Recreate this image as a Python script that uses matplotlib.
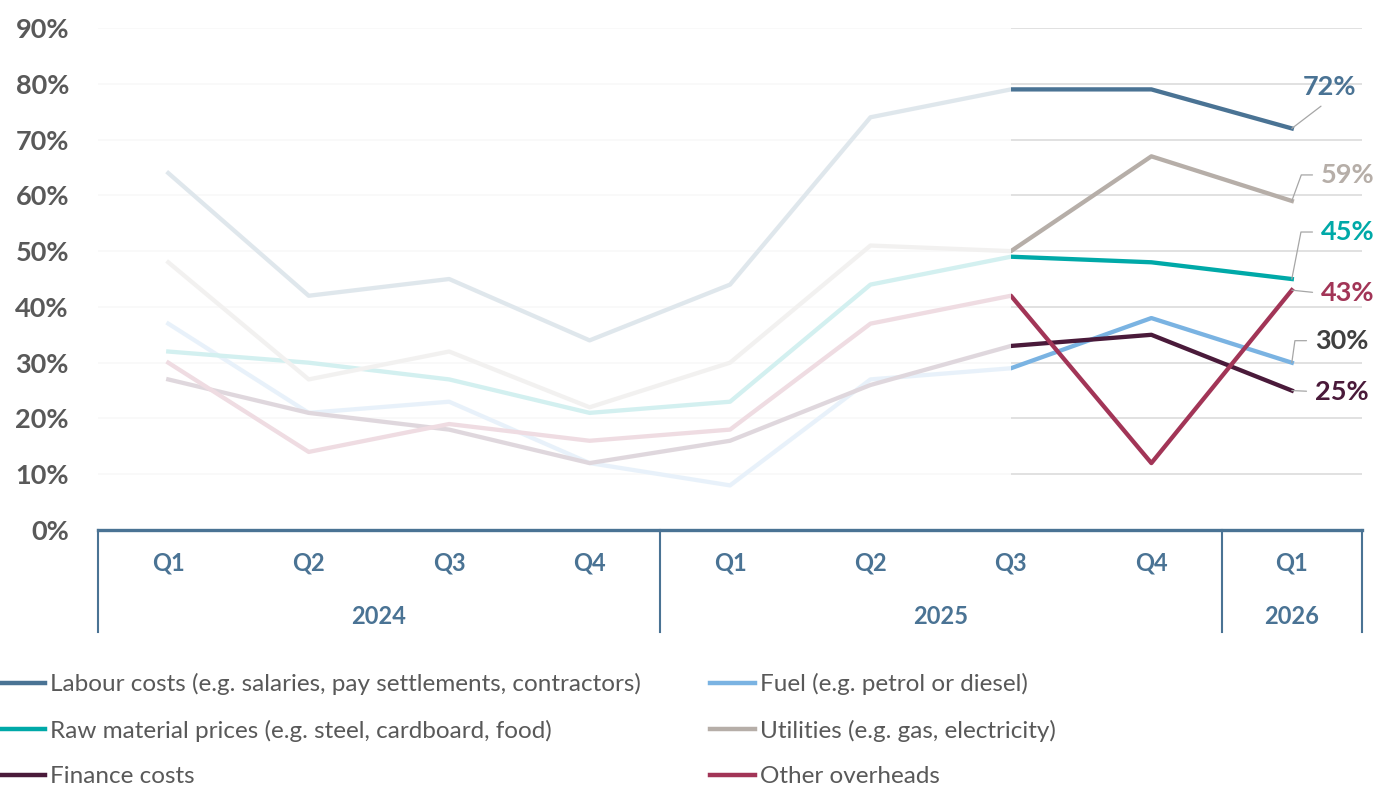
import numpy as np
import matplotlib
matplotlib.use('Agg')
import matplotlib.pyplot as plt
import matplotlib.transforms as mtransforms
from matplotlib.patches import Rectangle
from matplotlib.lines import Line2D

plt.rcParams['font.family'] = ['Lato', 'DejaVu Sans']

# quarterly share of firms citing each cost pressure (%)
quarters  = ['Q1', 'Q2', 'Q3', 'Q4', 'Q1', 'Q2', 'Q3', 'Q4', 'Q1']
years     = ['2024', '2025', '2026']
year_span = [4, 4, 1]

labour    = [64, 42, 45, 34, 44, 74, 79, 79, 72]
fuel      = [37, 21, 23, 12, 8, 27, 29, 38, 30]
raw       = [32, 30, 27, 21, 23, 44, 49, 48, 45]
utilities = [48, 27, 32, 22, 30, 51, 50, 67, 59]
finance   = [27, 21, 18, 12, 16, 26, 33, 35, 25]
other     = [30, 14, 19, 16, 18, 37, 42, 12, 43]

names = ['Labour costs (e.g. salaries, pay settlements, contractors)',
         'Fuel (e.g. petrol or diesel)',
         'Raw material prices (e.g. steel, cardboard, food)',
         'Utilities (e.g. gas, electricity)',
         'Finance costs',
         'Other overheads']
series = [labour, fuel, raw, utilities, finance, other]
colors = ['#4A7394', '#7AB3E2', '#00A9A8', '#B6AEA8', '#4A1A3A', '#A23557']

axis_col = '#4A7394'
x = np.arange(len(quarters))

fig = plt.figure(figsize=(13.79, 7.92), dpi=100)
ax = fig.add_axes([0.0711, 0.3308, 0.9166, 0.6338])

for s, c in zip(series, colors):
    ax.plot(x, s, color=c, lw=3.1, solid_joinstyle='round', zorder=3)

ax.set_xlim(-0.5, len(quarters) - 0.5)
ax.set_ylim(0, 90)
ax.set_yticks(range(0, 91, 10))
ax.set_yticklabels([f'{v}%' for v in range(0, 91, 10)],
                   fontsize=19.5, fontweight='bold', color='#595959')
ax.tick_params(axis='y', length=0, pad=21)
ax.set_xticks([])
ax.yaxis.grid(True, color='#D9D9D9', lw=1.1)
ax.set_axisbelow(True)
for side in ['left', 'right', 'top']:
    ax.spines[side].set_visible(False)
ax.spines['bottom'].set_color(axis_col)
ax.spines['bottom'].set_linewidth(2.4)
ax.spines['bottom'].set_zorder(6)

# wash out history before Q3 2025
trans = mtransforms.blended_transform_factory(ax.transData, ax.transAxes)
ax.add_patch(Rectangle((-0.5, 0), 6.5, 1.01, transform=trans, facecolor='white',
                       alpha=0.83, lw=0, zorder=4, clip_on=False))

# two-level category axis
for i, q in enumerate(quarters):
    ax.text(i, -0.066, q, transform=trans, ha='center', va='center',
            fontsize=17, fontweight='bold', color=axis_col)
bounds = np.cumsum([0] + year_span) - 0.5
for b in bounds:
    ax.plot([b, b], [0, -0.203], transform=trans, color=axis_col, lw=1.5,
            clip_on=False, zorder=6)
for yr, lo, hi in zip(years, bounds[:-1], bounds[1:]):
    ax.text((lo + hi) / 2, -0.173, yr, transform=trans, ha='center', va='center',
            fontsize=17, fontweight='bold', color=axis_col)

# end-of-series value labels with leader lines
label_cols = ['#4A7394', '#404040', '#00A9A8', '#B6AEA8', '#4A1A3A', '#A23557']
offsets = [(38, 41), (23, 22), (29, 47), (29, 26), (23, -1), (29, -3)]
conns = ['arc3', 'angle,angleA=0,angleB=82,rad=0', 'angle,angleA=0,angleB=79,rad=0',
         'angle,angleA=0,angleB=70,rad=0', 'arc3', 'arc3']
last = len(quarters) - 1
for s, lc, off, cs in zip(series, label_cols, offsets, conns):
    centred = off == offsets[0]
    ax.annotate(f'{s[last]}%', xy=(last, s[last]), xytext=off, textcoords='offset pixels',
                ha='center' if centred else 'left', va='center',
                fontsize=19.5, fontweight='bold', color=lc, zorder=7,
                arrowprops=dict(arrowstyle='-', color='#A6A6A6', lw=0.9,
                                connectionstyle=cs, patchA=None,
                                shrinkA=8 if centred else 6, shrinkB=0,
                                relpos=(0.5, 0) if centred else (0, 0.5)))

# legend in two columns, filled row by row
handles = [Line2D([], [], color=c, lw=3.2) for c in colors]
for col, fx in enumerate([0.0, 0.5149]):
    leg = fig.legend(handles[col::2], names[col::2], loc='center left',
                     bbox_to_anchor=(fx, 0.078), frameon=False, fontsize=17.5,
                     handlelength=1.85, handletextpad=0.22, labelspacing=1.0,
                     borderpad=0, borderaxespad=0)
    for t in leg.get_texts():
        t.set_color('#595959')

fig.savefig('out.png', dpi=100)
